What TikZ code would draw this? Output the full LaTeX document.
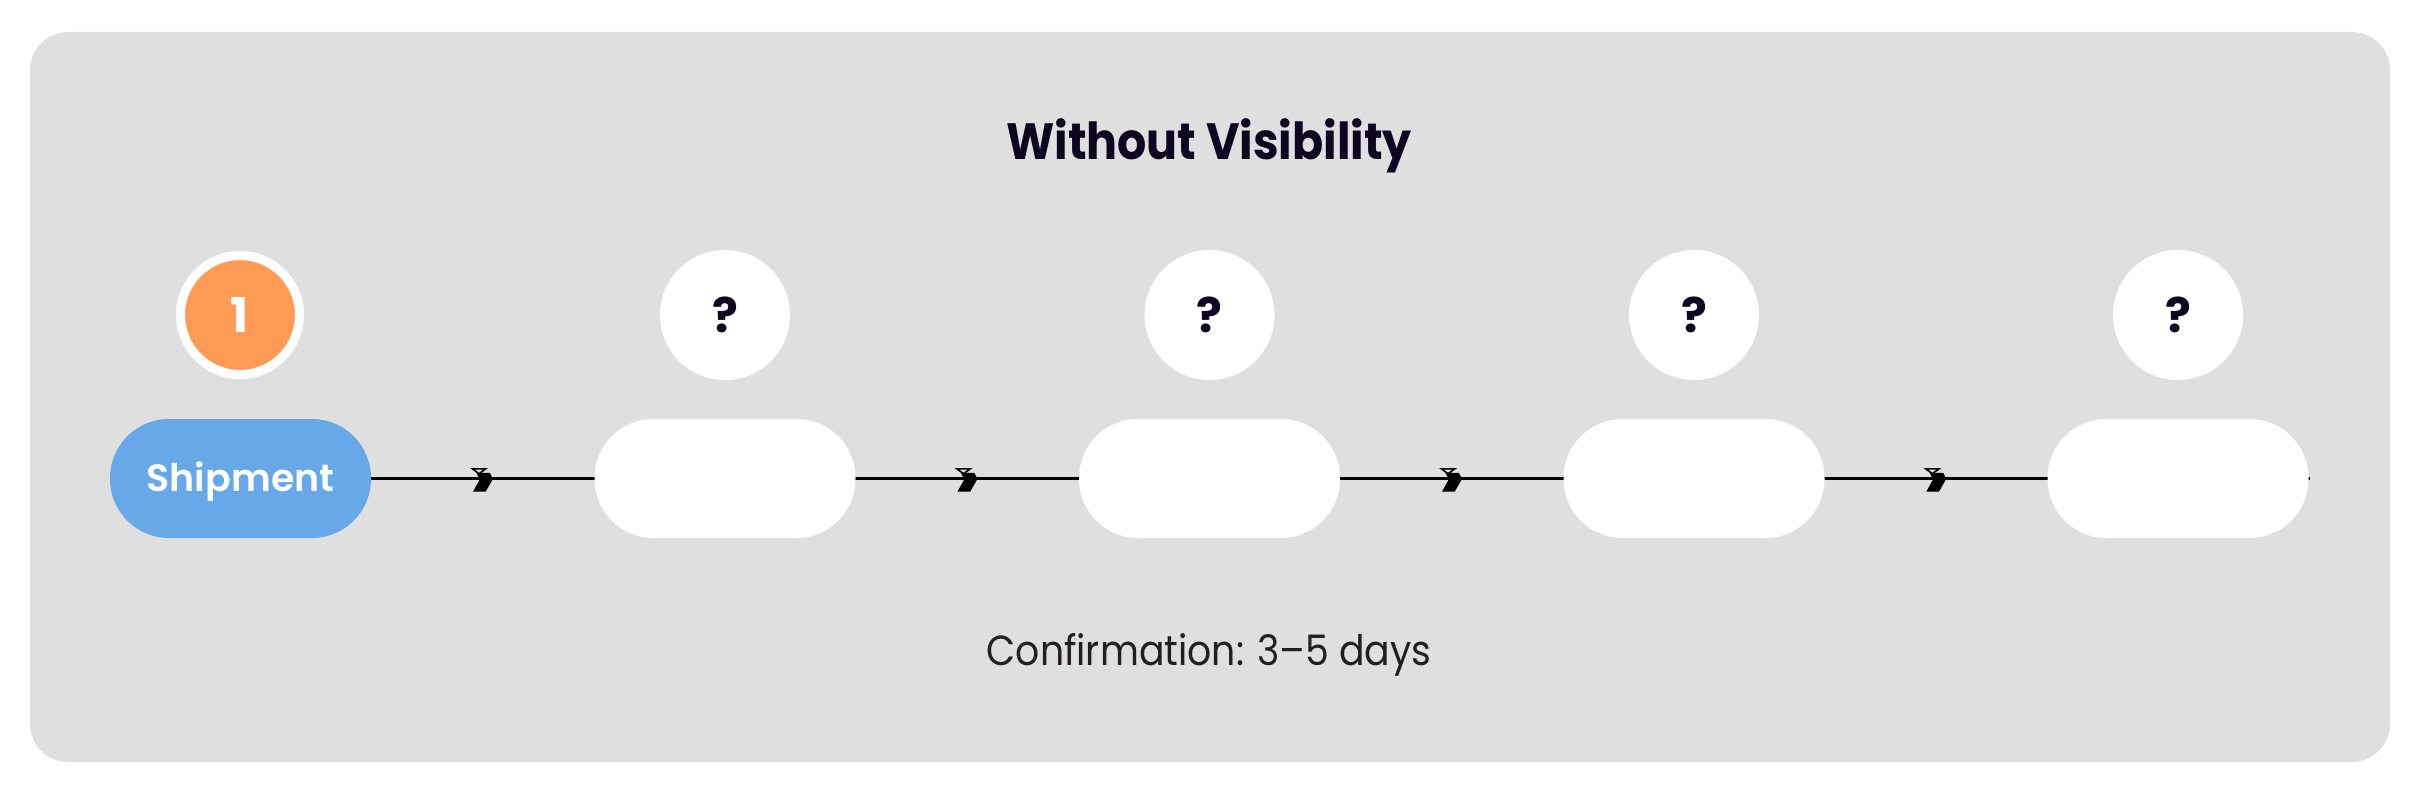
\documentclass[tikz,border=0pt]{standalone}
\usepackage{fontspec}
\setmainfont{Poppins}
\newfontfamily\narrowfont{Poppins}[FakeStretch=0.9]
\newfontfamily\semifont{Poppins SemiBold}
\usetikzlibrary{calc}
\definecolor{bggray}{HTML}{DFDFDF}
\definecolor{shipblue}{HTML}{67A8E9}
\definecolor{steporange}{HTML}{FF9B55}
\definecolor{navy}{HTML}{0E0620}
\definecolor{txtdark}{HTML}{231F20}
\pgfdeclarelayer{bg}
\pgfdeclarelayer{mid}
\pgfsetlayers{bg,mid,main}
\tikzset{
  pill/.style={rectangle, rounded corners=59pt, minimum width=261pt, minimum height=119pt, inner sep=0pt, fill=white},
  qcirc/.style={circle, fill=white, minimum size=130pt, inner sep=0pt, text=navy,
    font=\fontsize{48}{50}\selectfont\bfseries, text height=35pt, text depth=0pt},
  flowline/.style={line width=3.5pt, black},
  chev/.pic={
    \fill[black] (-6.3,-5.7) -- (7,-5.7) -- (10.3,0.3) -- (3,13) -- (-9.7,13) -- (-3,1) -- cycle;
    \draw[black, line width=1.6pt, line join=miter] (-10.3,-9.7) -- (3,-9.7) -- (-3.7,-4.7) -- cycle;
  }
}
\begin{document}
\begin{tikzpicture}[x=1pt,y=-1pt]
\useasboundingbox (0,0) rectangle (2422,794);
\begin{pgfonlayer}{bg}
\fill[bggray, rounded corners=38pt] (30,32) rectangle (2390,762);
\end{pgfonlayer}

\node[text=navy, font=\narrowfont\fontsize{51}{60}\selectfont\bfseries, anchor=base] (title) at (1209,160) {Without Visibility};

% step markers
\node[circle, fill=steporange, draw=white, line width=9pt, minimum size=119pt, inner sep=0pt,
      text=white, font=\fontsize{48}{50}\selectfont\bfseries, text height=35pt, text depth=0pt] (c1) at (240,315) {1};
\node[qcirc] (c2) at (725,315) {?};
\node[qcirc] (c3) at (1209.5,315) {?};
\node[qcirc] (c4) at (1694,315) {?};
\node[qcirc] (c5) at (2178,315) {?};

% stage pills
\node[pill, fill=shipblue, text=white, font=\semifont\fontsize{38}{44}\selectfont, text height=26pt, text depth=0pt] (s1) at (240.5,478.5) {Shipment};
\node[pill] (s2) at (725,478.5) {};
\node[pill] (s3) at (1209.5,478.5) {};
\node[pill] (s4) at (1694,478.5) {};
\node[pill] (s5) at (2178,478.5) {};

\coordinate (tailend) at ($(s5.east)+(1.5,0)$);
\begin{pgfonlayer}{mid}
\draw[flowline] (s1.east) -- (tailend);
\end{pgfonlayer}

\foreach \a/\b in {s1/s2, s2/s3, s3/s4, s4/s5} {
  \pic at ($(\a.east)!0.5!(\b.west)$) {chev};
}

\node[text=txtdark, font=\narrowfont\fontsize{42}{50}\selectfont, anchor=base] (conf) at (1209,665.7) {Confirmation: 3–5 days};
\end{tikzpicture}
\end{document}
